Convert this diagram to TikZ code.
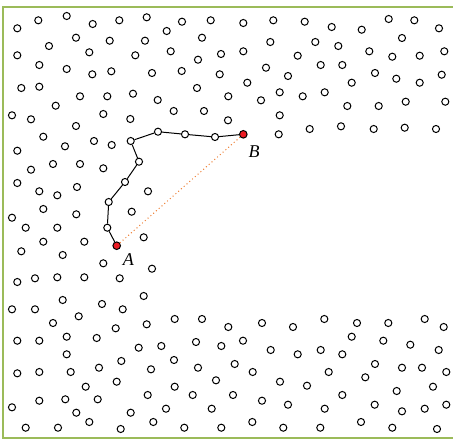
\documentclass[tikz,border=0pt]{standalone}
\usepackage{fontspec}
\setmainfont{Liberation Serif}
\usepackage{xcolor}
\usetikzlibrary{positioning}
\definecolor{framegreen}{RGB}{155,187,89}
\definecolor{chordorange}{RGB}{237,125,49}
\definecolor{endred}{RGB}{236,28,36}

\begin{document}
\begin{tikzpicture}[x=1pt,y=-1pt,
  pt/.style={circle,draw,line width=1pt,fill=white,inner sep=0pt,minimum size=7.1pt},
  endpt/.style={pt,fill=endred,minimum size=7.6pt},
  lbl/.style={font=\fontsize{18}{18}\selectfont\itshape,inner sep=0pt}]
  \useasboundingbox (0,0) rectangle (453,440);
  % frame (right side lies off the page)
  \draw[framegreen,line width=1.6pt] (456,6.7) -- (2.7,6.7) -- (2.7,438) -- (456,438);
  % upper point cloud
  \foreach \x/\y [count=\i] in {17.3/28.3, 38.3/20.3, 66.7/16, 92.7/24, 119.3/20.3, 146.7/17.3,
      182/21.7, 210.7/20.3, 166.7/31, 49/46, 76/37.7, 109.7/40.7, 145/40.7, 202/37.7,
      17.3/55.3, 89.3/52.3, 135.3/55.3, 170.7/51.3, 198/59.7, 221/54,
      39.3/65, 66.7/69, 92.3/74.3, 111.3/71.3, 152/73, 181.7/71, 219.7/74.3,
      21.3/88, 39.3/86.7, 80/96.3, 107.3/96.3, 133/93.7, 157.7/100, 197/88, 228.3/96.3,
      55.7/105.7, 12/115.3, 31/119.3, 76/126, 103.3/114, 130.3/119, 173.7/111, 204/111, 228/120.3,
      43.3/136.7, 65/146.3, 94/141, 111.7/145, 17.3/150.7, 31/169.7, 53/164, 80/164, 103.3/168.3,
      17.3/183, 39.3/191.3, 57.3/195.3, 77/187, 148/191.3, 43.3/209, 76.3/214.3, 131.7/211.7, 12/217.7,
      243.3/23, 273.3/20.3, 304.7/21.7, 331.7/27, 361.7/29.7, 388.7/19, 414.3/20.3, 439/28.3, 402/38,
      243.3/51.3, 270.3/42, 315.3/42, 338.3/46, 369.3/51.3, 392.3/56.7, 419.7/55.7, 444.3/51.3, 297.7/55.7,
      266/67.7, 288/76, 320.7/65, 342.3/65, 375/73, 396.3/78.7, 419.7/82.7, 441.7/74.7,
      247.3/82.7, 351.7/82.7, 261/100.3, 279.7/92.3, 302.7/96.3, 324.7/92.3, 347.3/106, 378.7/106,
      405.7/101.7, 445.3/101.7, 279.7/115.3,
      278.7/134.3, 309.7/129, 341/126.3, 373.7/129, 404.7/127.7, 436/129}
    \node[pt] (u\i) at (\x,\y) {};
  % lower point cloud
  \foreach \x/\y [count=\i] in {25.7/227.7, 57.3/227.7, 143.7/237.3, 43.3/241.7, 84.3/241.7,
      21.3/251.3, 62.7/255, 103.3/263.3, 152/268.7,
      17.3/282, 35/278.3, 57.3/277.3, 84.3/277.3, 119.7/278.3,
      143.7/296, 62.7/300, 102/304, 12/309.3, 35/309.3, 122.7/309.3, 78.7/316.3, 53/323, 115.7/328.3,
      146.7/324.3, 174.7/319, 202/319, 228.3/327,
      17.3/340.7, 39.3/340.7, 66.7/336.7, 96.7/338, 66.7/354.3, 138.7/347.7, 161.3/346, 196/342, 221.3/346,
      17.3/373.3, 39.3/372, 70.7/372, 99/367.7, 121.3/361, 151/369.3, 174/360, 198/367.7,
      116.7/381.7, 85.7/386.7, 174.7/386.7, 216/380.3, 147.7/395, 192.7/395, 233/395,
      12/407.3, 39.3/400.7, 65.3/399.3, 97.7/399.3, 76.3/412.7, 89.3/422, 130.7/412.7, 166/408.7,
      211.7/408.7, 153.3/422, 25.7/427.7, 58/427.7, 120.7/429, 184.3/427.7, 221.3/427.7,
      262/323, 293/327, 324.3/319, 357/323, 388.3/323, 424.7/319, 443.7/327,
      243/340.7, 270.7/350, 297.7/354.3, 320.7/350, 342.3/354.3, 351.7/336.7, 383.3/340.7, 410.3/344.7, 438.7/350,
      234.7/364, 252.7/372, 280/381.7, 307/385.7, 328.7/372, 365.3/377.3, 375/364, 402/367.7, 422/367.7, 446.3/372,
      262/400.7, 288/404.7, 324.7/408.7, 342.3/395, 374.7/404.7, 396.7/391, 402/411.3, 424.7/408.7,
      433/386.7, 446.3/404.7,
      252.3/422, 283.3/427.7, 320.3/427.7, 361/422, 392.3/427.7, 437/429}
    \node[pt] (l\i) at (\x,\y) {};
  % path from A to B
  \node[endpt] (A) at (116.7,245.7) {};
  \foreach \x/\y [count=\i] in {107.3/227.7, 108.7/202, 125/182, 139/161.7, 130.7/141,
      158/131.7, 185/134.3, 215/137}
    \node[pt] (p\i) at (\x,\y) {};
  \node[endpt] (B) at (243.3,134.3) {};
  \draw[line width=1pt] (A) -- (p1) -- (p2) -- (p3) -- (p4) -- (p5) -- (p6) -- (p7) -- (p8) -- (B);
  % straight chord
  \draw[chordorange,line width=1pt,dash pattern=on 1pt off 2.7pt] (A) -- (B);
  % labels
  \node[lbl] (labA) at (128.3,259.8) {A};
  \node[lbl] (labB) at (254,151.7) {B};
\end{tikzpicture}
\end{document}
